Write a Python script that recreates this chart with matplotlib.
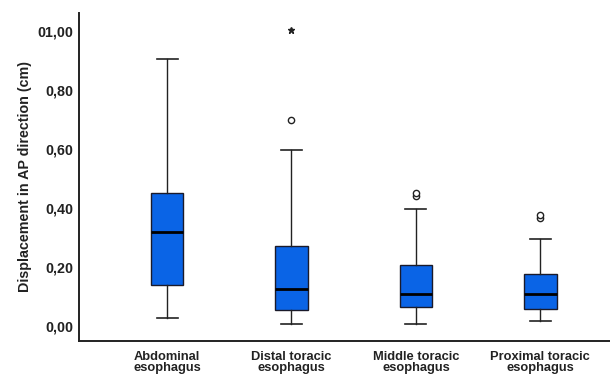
import matplotlib
matplotlib.use("Agg")
import matplotlib.pyplot as plt

categories = ["Abdominal\nesophagus", "Distal toracic\nesophagus",
              "Middle toracic\nesophagus", "Proximal toracic\nesophagus"]
whislo = [0.027, 0.007, 0.007, 0.017]
q1 = [0.139, 0.054, 0.063, 0.058]
med = [0.319, 0.125, 0.107, 0.107]
q3 = [0.451, 0.271, 0.206, 0.176]
whishi = [0.905, 0.597, 0.397, 0.296]
outliers = [[], [0.698], [0.440, 0.450], [0.366, 0.376]]
extremes = [[], [1.003], [], []]
yticks = [0.0, 0.2, 0.4, 0.6, 0.8, 1.0]
ytick_labels = ["0,00", "0,20", "0,40", "0,60", "0,80", "01,00"]

plt.rcParams['font.family'] = ['Liberation Sans', 'DejaVu Sans']

fig = plt.figure(figsize=(6.10, 3.74), dpi=100)
ax = fig.add_axes([79/610, 1 - 341/374, 531/610, 328/374])

stats = []
for i in range(len(categories)):
    stats.append(dict(whislo=whislo[i], q1=q1[i], med=med[i], q3=q3[i],
                      whishi=whishi[i], fliers=outliers[i]))
pos = [1, 2, 3, 4]
ax.bxp(stats, positions=pos, widths=0.26, patch_artist=True, showfliers=True,
       boxprops=dict(facecolor='#0a64e6', edgecolor='#1a1a2a', linewidth=1.0),
       medianprops=dict(color='black', linewidth=2.0),
       whiskerprops=dict(color='#222222', linewidth=1.0),
       capprops=dict(color='#222222', linewidth=1.2),
       capwidths=0.17,
       flierprops=dict(marker='o', markersize=4.5, markerfacecolor='white',
                       markeredgecolor='#222222', markeredgewidth=1.0))
for i, ex in enumerate(extremes):
    for v in ex:
        ax.plot([pos[i]], [v], marker='*', color='#222222', markersize=5, linestyle='none')

ax.set_xlim(0.292, 4.56)
ax.set_ylim(-0.051, 1.061)
ax.set_yticks(yticks)
ax.set_yticklabels(ytick_labels, fontsize=10.3, fontweight='bold', color='#222222')
ax.set_xticks(pos)
ax.set_xticklabels(categories, fontsize=9.3, fontweight='bold', color='#222222', linespacing=0.95)
ax.tick_params(axis='y', length=0, pad=4)
ax.tick_params(axis='x', length=0, pad=7)
ax.set_ylabel("Displacement in AP direction (cm)", fontsize=10.3, fontweight='bold',
              color='#222222', labelpad=4)
for s in ['top', 'right']:
    ax.spines[s].set_visible(False)
for s in ['left', 'bottom']:
    ax.spines[s].set_linewidth(1.4)
    ax.spines[s].set_color('#222222')

fig.savefig("out.png", dpi=100)
